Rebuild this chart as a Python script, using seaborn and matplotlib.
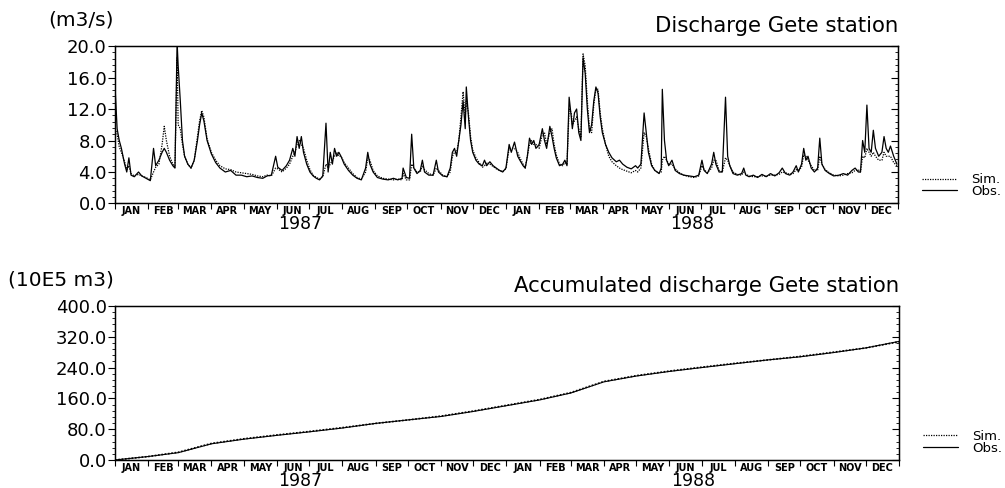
import matplotlib
matplotlib.use("Agg")
import matplotlib.pyplot as plt
from matplotlib.lines import Line2D
from matplotlib.ticker import MultipleLocator, AutoMinorLocator, FixedLocator, NullFormatter
import pandas as pd
import seaborn as sns

# daily discharge (m3/s), day 0 = 1 Jan 1987
day = [0, 2, 4, 6, 9, 11, 13, 15, 18, 22, 25, 29, 33, 36, 38, 41, 44, 46, 48, 51,
       54, 56, 58, 59, 61, 63, 65, 68, 71, 74, 77, 79, 81, 83, 86, 90, 94, 98, 103, 108,
       113, 118, 123, 128, 133, 138, 142, 146, 150, 152, 156, 160, 163, 166, 168, 170, 172, 174, 176, 179,
       182, 185, 188, 191, 194, 197, 199, 201, 203, 205, 207, 209, 211, 214, 218, 222, 226, 230, 234, 236,
       238, 241, 245, 250, 255, 260, 264, 268, 269, 272, 275, 277, 279, 282, 285, 287, 289, 293, 297, 300,
       302, 306, 310, 313, 315, 317, 319, 321, 323, 325, 327, 328, 330, 332, 334, 337, 340, 343, 345, 347,
       350, 353, 356, 359, 362, 365, 368, 370, 373, 376, 378, 381, 383, 385, 387, 389, 391, 393, 396, 399,
       401, 403, 406, 408, 410, 412, 415, 418, 420, 422, 424, 426, 427, 429, 431, 433, 435, 437, 439, 441,
       443, 445, 447, 449, 451, 453, 455, 458, 461, 464, 468, 471, 474, 478, 482, 486, 488, 491, 494, 496,
       498, 501, 504, 508, 510, 511, 513, 515, 517, 520, 523, 527, 531, 536, 541, 545, 548, 550, 553, 557,
       559, 561, 564, 567, 570, 572, 574, 577, 581, 585, 587, 589, 592, 596, 600, 604, 608, 612, 616, 620,
       623, 626, 630, 633, 636, 638, 641, 643, 645, 647, 650, 653, 656, 658, 660, 663, 667, 671, 676, 680,
       684, 688, 691, 694, 696, 698, 700, 702, 704, 706, 708, 710, 713, 716, 718, 720, 722, 724, 727, 730]
obs = [15.0, 9.5, 8.0, 7.0, 5.0, 4.0, 5.8, 3.6, 3.4, 4.0, 3.5, 3.2, 2.9, 7.0, 4.8, 5.5, 6.5, 7.0, 6.5, 5.5,
       4.8, 4.5, 20.5, 17.5, 13.0, 8.0, 6.0, 5.0, 4.5, 5.5, 8.0, 10.0, 11.5, 10.5, 8.0, 6.3, 5.2, 4.5, 4.0, 4.2,
       3.6, 3.6, 3.4, 3.5, 3.3, 3.2, 3.5, 3.6, 6.0, 4.6, 4.2, 4.8, 5.5, 7.0, 6.0, 8.5, 7.0, 8.5, 6.5, 5.0,
       4.0, 3.5, 3.2, 3.0, 3.5, 10.2, 4.0, 6.5, 5.0, 7.0, 6.0, 6.5, 6.0, 5.0, 4.2, 3.6, 3.2, 3.0, 4.5, 6.5,
       5.0, 4.0, 3.3, 3.1, 3.0, 3.2, 3.0, 3.2, 4.5, 3.3, 3.2, 8.8, 4.5, 3.8, 4.2, 5.5, 4.0, 3.6, 3.6, 5.5,
       4.0, 3.5, 3.4, 4.5, 6.5, 7.0, 6.0, 8.0, 10.0, 13.0, 9.5, 14.8, 11.0, 8.0, 6.5, 5.5, 5.0, 4.8, 5.5, 4.8,
       5.3, 4.8, 4.5, 4.2, 4.0, 4.5, 7.5, 6.5, 7.8, 6.0, 5.5, 4.8, 4.5, 6.0, 8.3, 7.5, 8.0, 7.0, 7.5, 9.5,
       8.0, 7.0, 9.8, 8.5, 7.0, 5.8, 4.8, 5.0, 5.5, 4.8, 13.5, 11.0, 9.5, 11.5, 12.0, 9.0, 8.0, 18.5, 16.5, 12.0,
       9.0, 10.0, 13.0, 14.8, 14.0, 11.0, 9.0, 7.5, 6.5, 5.8, 5.3, 5.5, 5.0, 4.6, 4.4, 4.8, 4.5, 5.0, 11.5, 9.0,
       6.5, 4.8, 4.2, 3.8, 4.5, 14.5, 8.0, 5.5, 4.8, 5.5, 4.2, 3.8, 3.6, 3.5, 3.4, 3.6, 5.5, 4.2, 3.8, 5.0,
       6.5, 5.0, 4.0, 4.0, 13.5, 6.0, 4.8, 3.8, 3.6, 3.8, 4.5, 3.6, 3.4, 3.6, 3.3, 3.7, 3.4, 3.8, 3.5, 3.9,
       4.5, 3.8, 3.6, 4.0, 4.8, 4.0, 5.0, 7.0, 5.5, 6.0, 4.5, 4.0, 4.5, 8.3, 5.0, 4.2, 3.8, 3.5, 3.6, 3.8,
       3.6, 4.2, 4.5, 4.0, 4.0, 8.0, 6.5, 12.5, 7.0, 6.5, 9.3, 7.0, 6.0, 6.5, 8.5, 7.0, 6.5, 7.3, 6.0, 5.0]
sim = [9.5, 8.8, 7.2, 6.5, 5.3, 4.3, 4.8, 3.8, 3.5, 3.7, 3.5, 3.3, 3.0, 4.0, 4.6, 5.0, 7.5, 9.8, 8.0, 6.0,
       5.0, 4.6, 18.5, 10.0, 9.5, 7.5, 6.0, 5.0, 4.5, 5.5, 8.5, 10.5, 11.8, 11.0, 8.2, 6.5, 5.5, 4.8, 4.4, 4.3,
       4.0, 3.9, 3.8, 3.7, 3.5, 3.4, 3.6, 3.5, 4.5, 4.4, 4.0, 4.5, 5.0, 6.0, 6.5, 7.5, 8.0, 7.5, 7.0, 5.5,
       4.3, 3.6, 3.3, 3.1, 3.4, 5.0, 4.5, 5.0, 5.5, 6.0, 6.5, 6.0, 6.0, 5.2, 4.5, 3.8, 3.3, 3.1, 4.0, 5.8,
       5.5, 4.2, 3.5, 3.2, 3.1, 3.0, 3.1, 3.0, 3.8, 3.0, 3.0, 5.0, 4.5, 4.0, 4.0, 4.8, 4.3, 3.8, 3.6, 4.5,
       4.2, 3.6, 3.4, 4.0, 6.0, 6.5, 6.5, 8.0, 11.0, 14.2, 11.0, 13.0, 11.5, 8.5, 6.8, 5.8, 5.2, 4.6, 4.8, 5.2,
       5.0, 4.7, 4.4, 4.2, 4.1, 4.4, 7.0, 7.0, 7.0, 6.5, 5.8, 5.0, 4.5, 6.0, 7.5, 8.0, 7.5, 7.5, 7.0, 8.8,
       9.0, 7.5, 9.0, 9.5, 7.5, 6.2, 5.0, 4.8, 5.2, 5.0, 12.0, 11.5, 10.0, 10.5, 11.0, 9.5, 8.5, 19.0, 17.5, 13.0,
       9.5, 9.0, 12.5, 14.5, 14.5, 11.5, 9.5, 7.5, 6.0, 5.3, 4.8, 4.5, 4.3, 4.1, 3.9, 4.2, 4.0, 4.5, 9.0, 8.5,
       7.0, 5.0, 4.2, 3.9, 4.0, 5.5, 6.0, 5.5, 5.0, 5.0, 4.4, 3.9, 3.6, 3.4, 3.3, 3.5, 4.8, 4.3, 3.9, 4.5,
       5.5, 5.5, 4.2, 4.0, 5.8, 5.5, 4.8, 4.0, 3.7, 3.6, 4.0, 3.7, 3.5, 3.4, 3.4, 3.5, 3.5, 3.6, 3.6, 3.7,
       4.0, 3.9, 3.7, 3.8, 4.3, 4.2, 4.6, 6.2, 6.0, 5.5, 4.8, 4.2, 4.2, 6.0, 5.0, 4.3, 3.9, 3.6, 3.5, 3.6,
       3.8, 3.9, 4.2, 4.3, 4.0, 6.0, 5.8, 7.0, 6.5, 6.0, 6.5, 6.0, 5.5, 5.5, 6.5, 6.0, 6.0, 6.0, 5.2, 4.8]

# accumulated discharge (10E5 m3) at month ends
acc_day = [0, 31, 59, 90, 120, 151, 181, 212, 243, 273, 304, 334, 365,
           396, 425, 456, 486, 517, 547, 578, 609, 639, 670, 700, 731]
acc_obs = [0, 9, 19, 42, 54, 64, 73, 83, 95, 104, 113, 126, 141,
           156, 174, 203, 218, 230, 240, 250, 260, 268, 279, 291, 308]
acc_sim = [0, 9, 20, 43, 55, 65, 74, 84, 95, 104, 114, 127, 142,
           157, 175, 204, 219, 231, 241, 251, 260, 269, 280, 291, 307]

months = ["JAN", "FEB", "MAR", "APR", "MAY", "JUN", "JUL", "AUG", "SEP", "OCT", "NOV", "DEC"]
years = ["1987", "1988"]

sns.set_style("ticks")
plt.rcParams["font.family"] = ["DejaVu Sans"]
for key in ["text.color", "axes.labelcolor", "xtick.color", "ytick.color", "axes.edgecolor"]:
    plt.rcParams[key] = "black"

df_q = pd.DataFrame({"day": day, "obs": obs, "sim": sim})
df_acc = pd.DataFrame({"day": acc_day, "obs": acc_obs, "sim": acc_sim})

start = pd.Timestamp("1987-01-01")
edges = pd.date_range("1987-01-01", "1989-01-01", freq="MS")
edge_days = [(d - start).days for d in edges]
mid_days = [(edge_days[i] + edge_days[i + 1]) / 2 for i in range(len(edge_days) - 1)]
year_mid = [edge_days[6] - 8, edge_days[18] - 8]

fig = plt.figure(figsize=(10.05, 4.88), dpi=100)
ax1 = fig.add_axes([0.1144, 0.583, 0.7791, 0.3227])
ax2 = fig.add_axes([0.1144, 0.0574, 0.7801, 0.3156])

dotted = (0, (1, 1))


def style_axis(ax, ymax, step, unit, title):
    ax.set_xlim(0, 731)
    ax.set_ylim(0, ymax)
    ax.yaxis.set_major_locator(MultipleLocator(step))
    ax.yaxis.set_minor_locator(AutoMinorLocator(5))
    ax.yaxis.set_major_formatter(plt.FuncFormatter(lambda v, p: "%.1f" % v))
    ax.tick_params(axis="y", which="major", direction="out", length=5, width=0.8, labelsize=13, pad=1)
    ax.tick_params(axis="y", which="minor", direction="out", length=2.5, width=0.6)
    ax.xaxis.set_major_locator(FixedLocator(edge_days))
    ax.xaxis.set_major_formatter(NullFormatter())
    ax.set_xticks(mid_days, months * 2, minor=True)
    ax.tick_params(axis="x", which="major", direction="out", length=4, width=0.8)
    ax.tick_params(axis="x", which="minor", length=0, labelsize=7, pad=2)
    for lab in ax.get_xticklabels(minor=True):
        lab.set_fontweight("bold")
    for sp in ax.spines.values():
        sp.set_linewidth(1.0)
        sp.set_visible(True)
    ax.set_xlabel("")
    ax.set_ylabel("")
    # right side ticks pointing inward
    twin = ax.twinx()
    twin.set_ylim(0, ymax)
    twin.yaxis.set_major_locator(MultipleLocator(step))
    twin.yaxis.set_minor_locator(AutoMinorLocator(5))
    twin.tick_params(axis="y", which="major", direction="in", length=5, width=0.8, labelright=False)
    twin.tick_params(axis="y", which="minor", direction="in", length=2.5, width=0.6)
    for i, y in enumerate(years):
        ax.annotate(y, (year_mid[i], 0), xycoords=ax.get_xaxis_transform(), xytext=(0, -15),
                    textcoords="offset points", ha="center", va="center", fontsize=12.5)
    ax.annotate(unit, (0, 1), xycoords="axes fraction", xytext=(-1, 18.5), textcoords="offset points",
                ha="right", va="center", fontsize=14.5)
    ax.annotate(title, (1, 1), xycoords="axes fraction", xytext=(0, 14.5), textcoords="offset points",
                ha="right", va="center", fontsize=15.3)
    handles = [Line2D([], [], color="black", lw=0.9, linestyle=dotted),
               Line2D([], [], color="black", lw=0.9)]
    ax.legend(handles, ["Sim.", "Obs."], loc="center left", bbox_to_anchor=(1.031, 0.114), frameon=False,
              fontsize=9.5, handlelength=2.6, labelspacing=-0.1, handletextpad=1.1, borderpad=0, borderaxespad=0)


sns.lineplot(data=df_q, x="day", y="sim", ax=ax1, color="black", lw=0.9, linestyle=dotted)
sns.lineplot(data=df_q, x="day", y="obs", ax=ax1, color="black", lw=0.9)
style_axis(ax1, 20, 4, "(m3/s)", "Discharge Gete station")

sns.lineplot(data=df_acc, x="day", y="sim", ax=ax2, color="black", lw=1.2, linestyle=dotted)
sns.lineplot(data=df_acc, x="day", y="obs", ax=ax2, color="black", lw=0.8)
style_axis(ax2, 400, 80, "(10E5 m3)", "Accumulated discharge Gete station")

fig.savefig("out.png", dpi=100)
